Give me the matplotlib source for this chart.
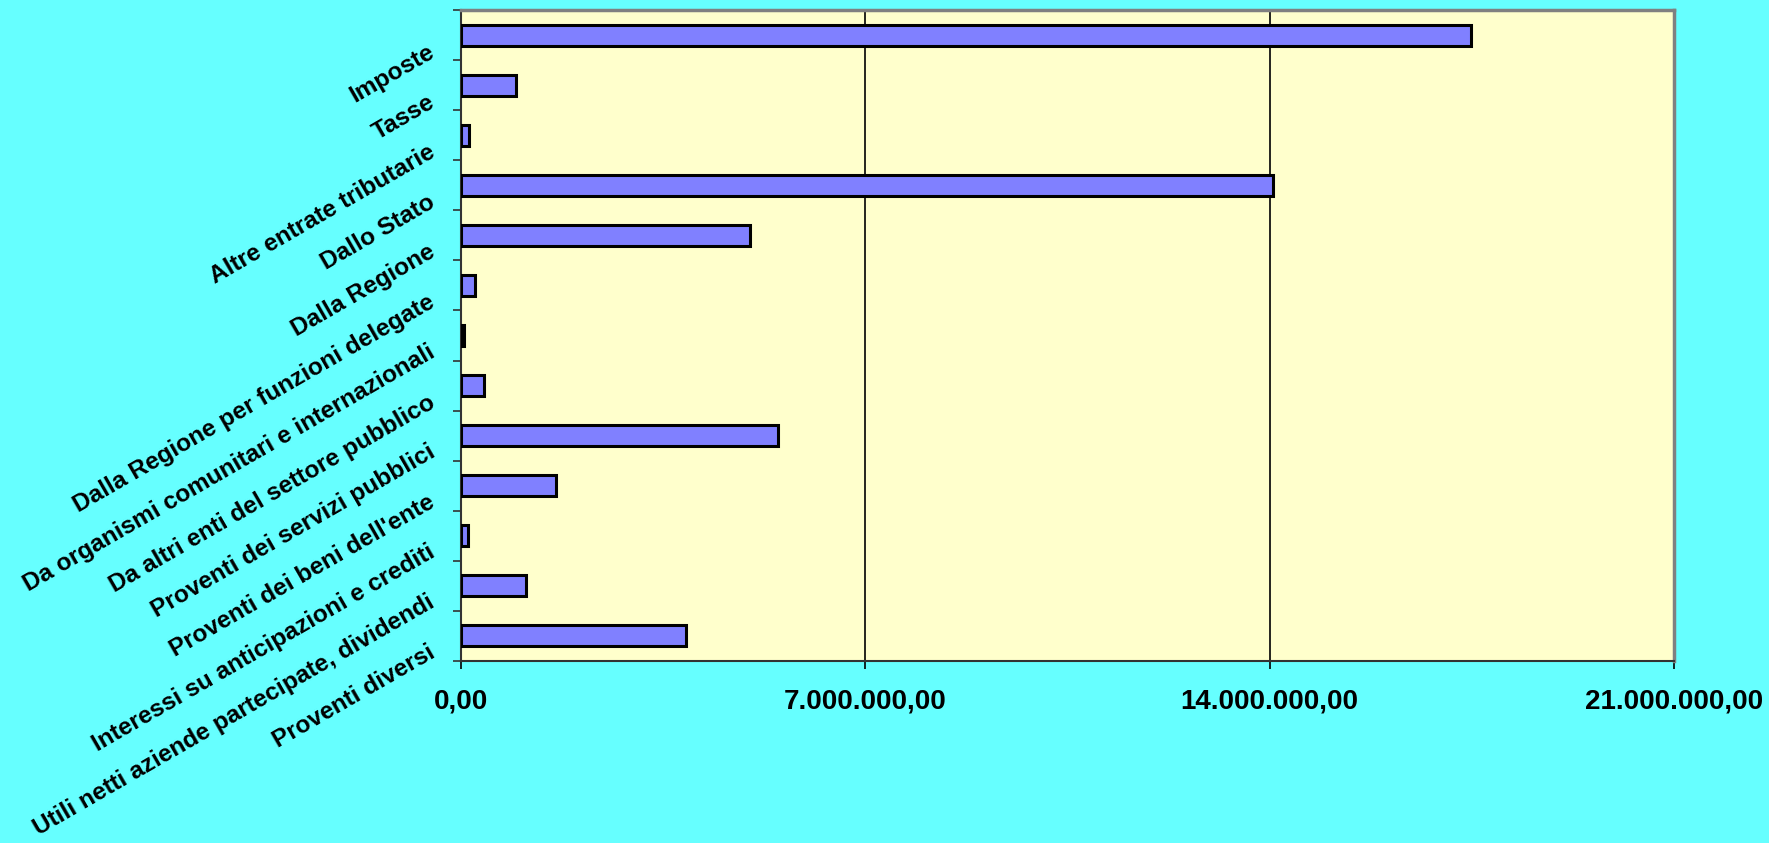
import matplotlib
matplotlib.use("Agg")
import matplotlib.pyplot as plt
from matplotlib.ticker import FuncFormatter, FixedLocator
import matplotlib.transforms as mtransforms

categories = [
    "Imposte",
    "Tasse",
    "Altre entrate tributarie",
    "Dallo Stato",
    "Dalla Regione",
    "Dalla Regione per funzioni delegate",
    "Da organismi comunitari e internazionali",
    "Da altri enti del settore pubblico",
    "Proventi dei servizi pubblici",
    "Proventi dei beni dell'ente",
    "Interessi su anticipazioni e crediti",
    "Utili netti aziende partecipate, dividendi",
    "Proventi diversi",
]
values = [
    17480000, 960000, 140000, 14050000, 5000000, 250000, 50000,
    390000, 5480000, 1640000, 120000, 1130000, 3900000,
]
xticks = [0, 7000000, 14000000, 21000000]

plt.rcParams['font.family'] = ['Liberation Sans', 'DejaVu Sans']
plt.rcParams['font.weight'] = 'bold'

BG = "#66FFFF"
PLOT_BG = "#FFFFCC"
BAR = "#8080FF"

fig = plt.figure(figsize=(17.69, 8.43), dpi=100, facecolor=BG)
ax = fig.add_axes([461/1769, 1-661/843, (1674-461)/1769, (661-10)/843])
ax.set_facecolor(PLOT_BG)

y = list(range(len(categories)))
ax.barh(y, values, height=0.42, color=BAR, edgecolor="black", linewidth=2.2, zorder=3)

ax.set_xlim(0, 21000000)
ax.set_ylim(len(categories) - 0.5, -0.5)

def fmt(v, pos):
    s = f"{v:,.2f}"
    return s.replace(",", "X").replace(".", ",").replace("X", ".")

ax.xaxis.set_major_locator(FixedLocator(xticks))
ax.xaxis.set_major_formatter(FuncFormatter(fmt))
for t in xticks[1:-1]:
    ax.axvline(t, color="black", linewidth=1.2, zorder=1)

ax.tick_params(axis="x", length=6, width=1.2, pad=14, labelsize=20, colors="black")
for lab in ax.get_xticklabels():
    lab.set_fontweight("bold")

# y ticks at category boundaries
ax.set_yticks([i - 0.5 for i in range(len(categories) + 1)])
ax.set_yticklabels([])
ax.tick_params(axis="y", length=6, width=1.2, colors="#333333")

# category labels rotated
offset = mtransforms.ScaledTranslation(-28/100, -15/100, fig.dpi_scale_trans)
trans = mtransforms.blended_transform_factory(ax.transAxes, ax.transData) + offset
for i, c in enumerate(categories):
    ax.text(0, i, c, transform=trans, rotation=30, rotation_mode="anchor",
            ha="right", va="center", fontsize=17.6, fontweight="bold", color="black")

for side in ["top", "right"]:
    ax.spines[side].set_color("#808080")
    ax.spines[side].set_linewidth(2.5)
for side in ["left", "bottom"]:
    ax.spines[side].set_color("#333333")
    ax.spines[side].set_linewidth(1.5)

fig.savefig("out.png", dpi=100, facecolor=BG)
